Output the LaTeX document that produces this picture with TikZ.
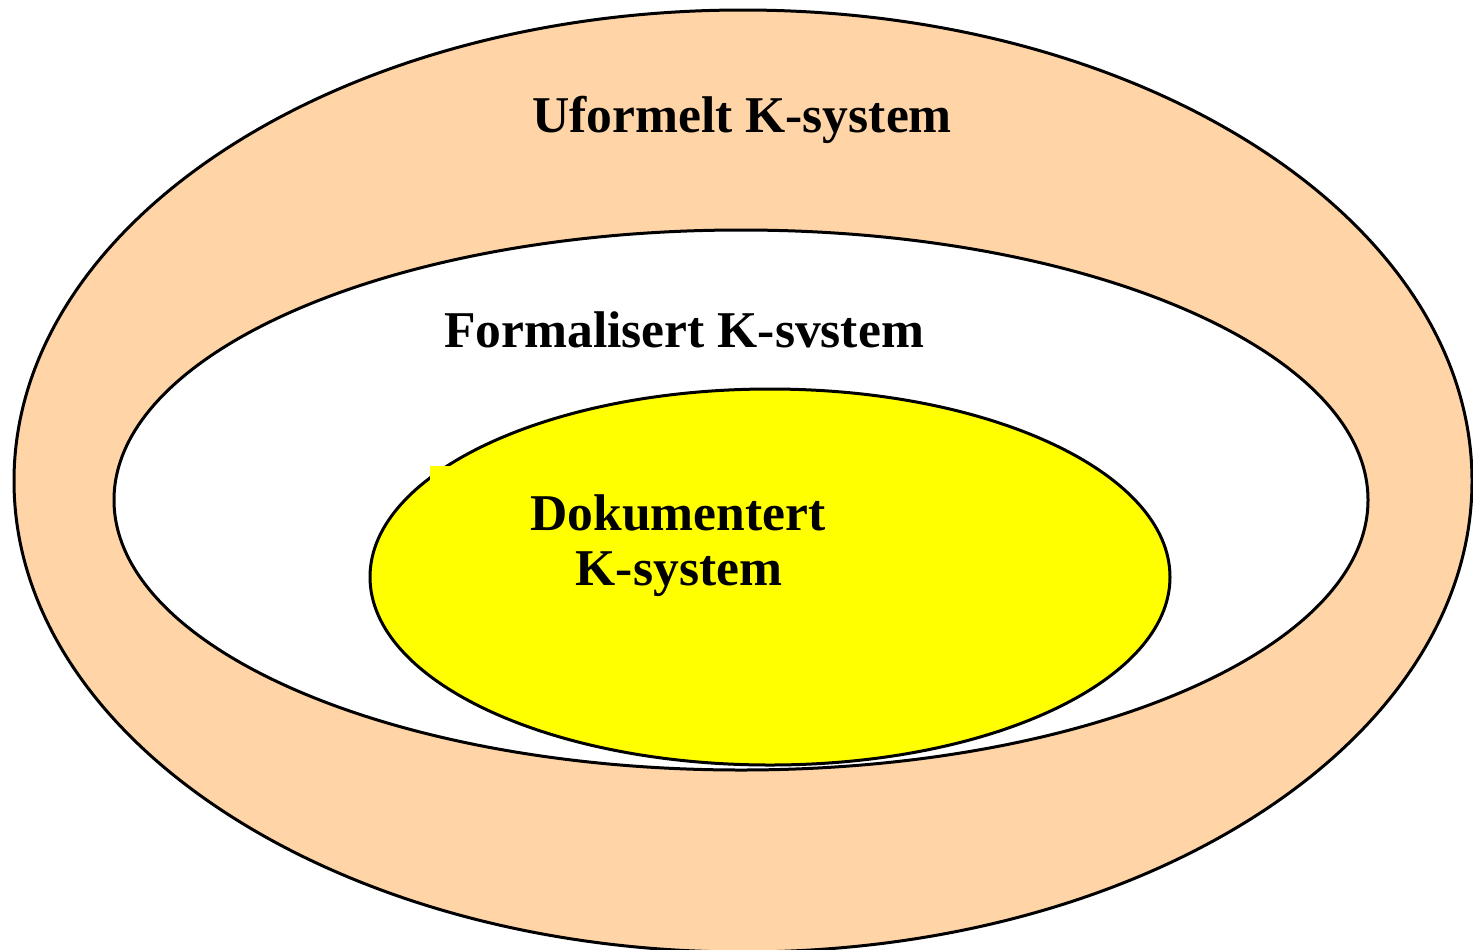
\documentclass[tikz,border=0pt]{standalone}
\usepackage{fontspec}
\setmainfont{Liberation Serif}
\definecolor{peach}{HTML}{FFD5A8}
\definecolor{yel}{HTML}{FFFF00}
\begin{document}
\begin{tikzpicture}[x=0.5pt,y=-0.5pt,
  ring/.style={draw=black,line width=1.5pt},
  lbl/.style={font=\fontsize{25.8}{27.5}\selectfont\bfseries,inner sep=0pt,align=center,text=black}]
\useasboundingbox (0,0) rectangle (1473,949);
\clip (0,0) rectangle (1473,949);
\fill[white] (0,0) rectangle (1473,949);
\draw[ring,fill=peach] (743,481) ellipse [x radius=729, y radius=471];
\draw[ring,fill=white] (741,500) ellipse [x radius=627, y radius=270];
\draw[ring,fill=yel] (770,577) ellipse [x radius=400, y radius=188];
\fill[yel] (430,466) rectangle (450,486);
\node[lbl,anchor=base] (uf) at (742,132) {Uformelt K-system};
\node[lbl,anchor=base] (fo) at (684,347) {Formalisert K-svstem};
\node[lbl,anchor=base] (dk) at (678,530) {Dokumentert};
\node[lbl,anchor=base] (ks) at (679,585) {K-system};
\end{tikzpicture}
\end{document}
